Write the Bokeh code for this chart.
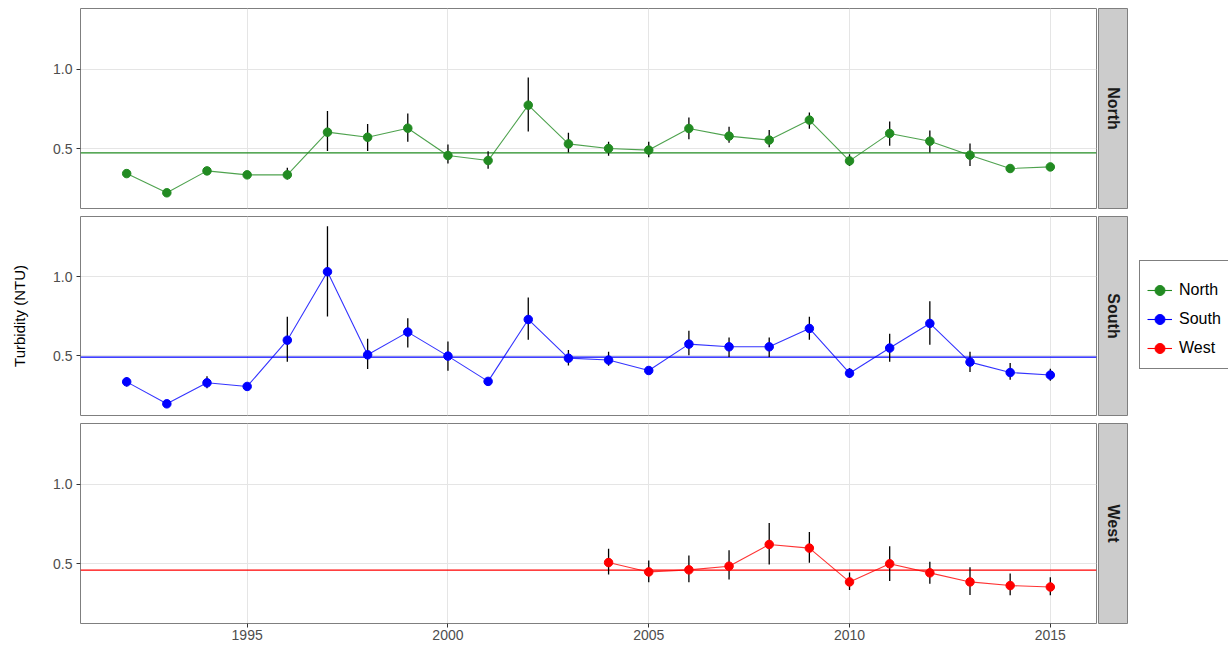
import math
from bokeh.plotting import figure
from bokeh.models import (ColumnDataSource, Span, Grid, FixedTicker, PrintfTickFormatter,
                          Legend, LegendItem, Range1d)
from bokeh.layouts import row, column
from bokeh.embed import file_html
from bokeh.resources import INLINE
from bokeh.core.properties import value

# ---------------- data ----------------
regions = ["North", "South", "West"]
region_colors = ["#228B22", "#0000FF", "#FF0000"]

north_years = list(range(1992, 2016))
north_turb = [0.342, 0.221, 0.359, 0.334, 0.334, 0.603, 0.571, 0.628, 0.456, 0.424, 0.773, 0.529,
              0.500, 0.490, 0.626, 0.578, 0.553, 0.679, 0.422, 0.595, 0.546, 0.458, 0.374, 0.384]
north_lower = [0.330, 0.210, 0.345, 0.325, 0.305, 0.485, 0.485, 0.542, 0.405, 0.372, 0.607, 0.475,
               0.454, 0.445, 0.559, 0.536, 0.508, 0.624, 0.389, 0.517, 0.475, 0.389, 0.360, 0.370]
north_upper = [0.355, 0.232, 0.375, 0.345, 0.378, 0.737, 0.655, 0.720, 0.525, 0.483, 0.947, 0.599,
               0.542, 0.542, 0.695, 0.637, 0.616, 0.727, 0.464, 0.670, 0.613, 0.532, 0.390, 0.398]
north_ref = 0.473

south_years = list(range(1992, 2016))
south_turb = [0.335, 0.196, 0.329, 0.306, 0.599, 1.032, 0.506, 0.650, 0.498, 0.338, 0.730, 0.485,
              0.473, 0.407, 0.574, 0.557, 0.557, 0.673, 0.390, 0.549, 0.705, 0.460, 0.394, 0.378]
south_lower = [0.306, 0.180, 0.295, 0.290, 0.462, 0.749, 0.416, 0.553, 0.405, 0.325, 0.601, 0.439,
               0.437, 0.395, 0.504, 0.492, 0.492, 0.601, 0.359, 0.462, 0.570, 0.397, 0.348, 0.342]
south_upper = [0.364, 0.210, 0.371, 0.320, 0.747, 1.321, 0.608, 0.738, 0.591, 0.350, 0.869, 0.536,
               0.525, 0.420, 0.658, 0.616, 0.616, 0.747, 0.422, 0.639, 0.846, 0.525, 0.454, 0.418]
south_ref = 0.492

west_years = list(range(2004, 2016))
west_turb = [0.506, 0.447, 0.460, 0.483, 0.620, 0.597, 0.384, 0.498, 0.441, 0.384, 0.361, 0.352]
west_lower = [0.430, 0.382, 0.382, 0.399, 0.494, 0.504, 0.333, 0.390, 0.373, 0.302, 0.300, 0.300]
west_upper = [0.593, 0.519, 0.551, 0.584, 0.755, 0.698, 0.443, 0.608, 0.511, 0.477, 0.437, 0.414]
west_ref = 0.458

x_ticks = [1995, 2000, 2005, 2010, 2015]
y_ticks = [0.5, 1.0]
y_label = "Turbidity (NTU)"

# ---------------- style ----------------
FONT = "Liberation Sans"
X0, X1 = 1990.85, 2016.15
Y0, Y1 = 0.122, 1.382
GRID = "#E5E5E5"
BORDER = "#7F7F7F"
PT_SIZE = 8.5

panel_data = [
    (north_years, north_turb, north_lower, north_upper, north_ref),
    (south_years, south_turb, south_lower, south_upper, south_ref),
    (west_years, west_turb, west_lower, west_upper, west_ref),
]
heights = [212, 207, 227]
tops = [8, 4, 4]
bottoms = [4, 4, 23]

mains, strips = [], []
for i, (name, color, (yrs, vals, lo, hi, ref)) in enumerate(zip(regions, region_colors, panel_data)):
    last = (i == len(regions) - 1)
    p = figure(width=1097, height=heights[i],
               x_range=Range1d(X0, X1), y_range=Range1d(Y0, Y1),
               x_axis_type="linear" if last else None,
               output_backend="svg", toolbar_location=None,
               min_border_left=80, min_border_right=1,
               min_border_top=tops[i], min_border_bottom=bottoms[i])
    p.outline_line_color = BORDER
    p.outline_line_width = 1
    p.background_fill_color = "white"
    p.border_fill_color = "white"

    # y axis
    p.yaxis.ticker = FixedTicker(ticks=y_ticks)
    p.yaxis.formatter = PrintfTickFormatter(format="%.1f")
    p.yaxis.axis_line_color = None
    p.yaxis.major_tick_line_color = "#333333"
    p.yaxis.major_tick_in = 0
    p.yaxis.major_tick_out = 4
    p.yaxis.minor_tick_line_color = None
    p.yaxis.major_label_standoff = 4
    p.yaxis.major_label_text_font = FONT
    p.yaxis.major_label_text_font_size = "14px"
    p.yaxis.major_label_text_color = "#4D4D4D"
    p.ygrid.ticker = FixedTicker(ticks=y_ticks)
    p.ygrid.grid_line_color = GRID
    if i == 1:
        p.yaxis.axis_label = y_label
        p.yaxis.axis_label_text_font = FONT
        p.yaxis.axis_label_text_font_size = "15px"
        p.yaxis.axis_label_text_font_style = "normal"
        p.yaxis.axis_label_text_color = "black"
        p.yaxis.axis_label_standoff = 22

    # x axis / grid
    if last:
        p.xaxis.ticker = FixedTicker(ticks=x_ticks)
        p.xaxis.axis_line_color = None
        p.xaxis.major_tick_line_color = "#333333"
        p.xaxis.major_tick_in = 0
        p.xaxis.major_tick_out = 4
        p.xaxis.minor_tick_line_color = None
        p.xaxis.major_label_standoff = 2
        p.xaxis.major_label_text_font = FONT
        p.xaxis.major_label_text_font_size = "14px"
        p.xaxis.major_label_text_color = "#4D4D4D"
        p.xgrid.ticker = FixedTicker(ticks=x_ticks)
        p.xgrid.grid_line_color = GRID
    else:
        p.add_layout(Grid(dimension=0, ticker=FixedTicker(ticks=x_ticks), grid_line_color=GRID))

    src = ColumnDataSource(data=dict(year=yrs, turb=vals, lower=lo, upper=hi))
    span = Span(location=ref, dimension="width", line_color=color, line_width=1.3, level="underlay")
    p.add_layout(span)
    p.line("year", "turb", source=src, line_color=color, line_width=1.1, line_alpha=0.8)
    p.segment(x0="year", y0="lower", x1="year", y1="upper", source=src,
              line_color="black", line_width=1.3)
    p.scatter("year", "turb", source=src, size=PT_SIZE, fill_color=color, line_color=color)
    mains.append(p)

    # facet strip
    s = figure(width=31, height=heights[i], x_range=Range1d(0, 1), y_range=Range1d(0, 1),
               x_axis_type=None, y_axis_type=None,
               output_backend="svg", toolbar_location=None,
               min_border_left=1, min_border_right=1,
               min_border_top=tops[i], min_border_bottom=bottoms[i])
    s.background_fill_color = "#CCCCCC"
    s.border_fill_color = "white"
    s.outline_line_color = BORDER
    s.grid.visible = False
    ssrc = ColumnDataSource(data=dict(x=[0.5], y=[0.5], t=[name]))
    s.text("x", "y", text="t", source=ssrc, angle=-math.pi / 2,
           text_align="center", text_baseline="middle",
           text_font=value(FONT), text_font_size="16px", text_font_style="bold",
           text_color="#1A1A1A")
    strips.append(s)

# legend figure (series drawn outside its visible range; only the legend shows)
lf = figure(width=100, height=646, x_range=Range1d(0, 1), y_range=Range1d(0, 1),
            x_axis_type=None, y_axis_type=None,
            output_backend="svg", toolbar_location=None,
            min_border_left=0, min_border_right=0, min_border_top=0, min_border_bottom=0)
lf.outline_line_color = None
lf.grid.visible = False
items = []
for name, color, (yrs, vals, lo, hi, ref) in zip(regions, region_colors, panel_data):
    lsrc = ColumnDataSource(data=dict(year=yrs, turb=vals))
    lr = lf.line("year", "turb", source=lsrc, line_color=color, line_width=1.1)
    sr = lf.scatter("year", "turb", source=lsrc, size=PT_SIZE, fill_color=color, line_color=color)
    items.append(LegendItem(label=name, renderers=[lr, sr]))
legend = Legend(items=items, location=(11, 277),
                title=" ", title_text_font_size="8px", title_standoff=0,
                border_line_color="black", border_line_width=1,
                background_fill_color="white", background_fill_alpha=1,
                padding=7, spacing=3, margin=0,
                glyph_width=25, glyph_height=26, label_height=26, label_standoff=7,
                label_text_font=FONT, label_text_font_size="16px", label_text_color="black")
lf.add_layout(legend)

layout = row(column(*mains, spacing=0), column(*strips, spacing=0), lf, spacing=0)

open("out.html", "w").write(file_html(layout, INLINE))
